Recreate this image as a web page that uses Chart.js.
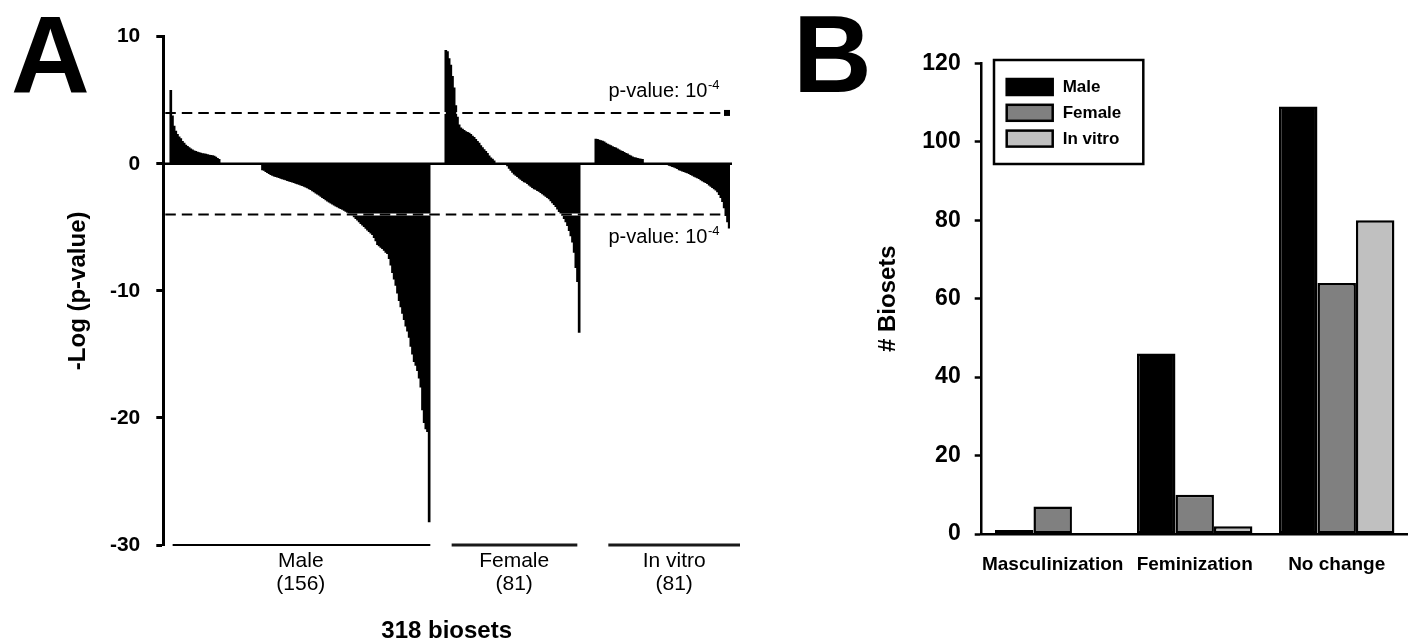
<!DOCTYPE html>
<html><head><meta charset="utf-8">
<script src="https://cdn.jsdelivr.net/npm/chart.js@4.4.1/dist/chart.umd.min.js"></script>
<style>
html,body{margin:0;padding:0;background:#fff}
#wrap{position:relative;width:1413px;height:643px;overflow:hidden;background:#fff}
canvas{position:absolute;top:0}
</style>
</head><body>
<div id="wrap">
<canvas id="panelA" width="780" height="643" style="left:0"></canvas>
<canvas id="panelB" width="633" height="643" style="left:780px"></canvas>
</div>
<script>
// ================= DATA =================
// Panel A: -log(p-value) of 318 biosets, sorted within each group
const groupNames  = ['Male', 'Female', 'In vitro'];
const groupCounts = [156, 81, 81];
const totalLabel  = '318 biosets';
const thresholdLog = 4;            // p-value 10^-4
const yTicksA = [-30, -20, -10, 0, 10];

const maleValues = [
  5.8, 3.8, 3.0, 2.6, 2.35, 2.15, 2.0, 1.8, 1.65, 1.5,
  1.4, 1.3, 1.2, 1.12, 1.05, 1.0, 0.95, 0.9, 0.86, 0.83,
  0.8, 0.78, 0.75, 0.72, 0.7, 0.67, 0.63, 0.55, 0.45, 0.38,
  0, 0, 0, 0, 0, 0, 0, 0, 0, 0,
  0, 0, 0, 0, 0, 0, 0, 0, 0, 0,
  0, 0, 0, 0, 0,
  -0.5, -0.55, -0.65, -0.72, -0.8, -0.88, -0.95, -1.0, -1.04, -1.08,
  -1.12, -1.17, -1.22, -1.26, -1.3, -1.35, -1.39, -1.44, -1.48, -1.52,
  -1.57, -1.62, -1.66, -1.7, -1.75, -1.8, -1.86, -1.92, -2.0, -2.07,
  -2.16, -2.25, -2.33, -2.42, -2.5, -2.6, -2.69, -2.78, -2.88, -2.97,
  -3.05, -3.13, -3.21, -3.28, -3.36, -3.43, -3.5, -3.56, -3.62, -3.7,
  -3.78, -3.86, -3.92, -3.98, -4.05, -4.2, -4.35, -4.47, -4.6, -4.73,
  -4.86, -4.98, -5.12, -5.25, -5.37, -5.48, -5.6, -5.85, -6.1, -6.4,
  -6.5, -6.6, -6.7, -6.85, -7.0, -7.1, -7.5, -8.0, -8.6, -9.1,
  -9.6, -10.2, -10.8, -11.3, -11.8, -12.3, -12.8, -13.2, -13.7, -14.4,
  -15.0, -15.6, -15.9, -16.3, -16.9, -17.6, -19.4, -20.4, -20.9, -21.1,
  -28.2
];
const femaleValues = [
  8.95, 8.85, 8.3, 7.8, 6.9, 6.0, 4.6, 3.7, 3.1, 2.85,
  2.75, 2.65, 2.55, 2.5, 2.45, 2.35, 2.2, 2.1, 1.95, 1.8,
  1.65, 1.45, 1.3, 1.15, 1.0, 0.85, 0.65, 0.5, 0.4, 0.25,
  0, 0, 0, 0, 0, 0, 0,
  -0.2, -0.4, -0.55, -0.7, -0.85, -0.95, -1.05, -1.15, -1.25, -1.35,
  -1.45, -1.5, -1.6, -1.7, -1.8, -1.9, -2.0, -2.05, -2.15, -2.2,
  -2.3, -2.4, -2.5, -2.6, -2.7, -2.8, -2.95, -3.1, -3.25, -3.4,
  -3.6, -3.8, -3.95, -4.1, -4.35, -4.6, -4.9, -5.3, -5.7, -6.2,
  -7.0, -8.2, -9.3, -13.3
];
const invitroValues = [
  1.97, 1.95, 1.9, 1.86, 1.82, 1.75, 1.65, 1.58, 1.52, 1.45,
  1.38, 1.32, 1.28, 1.2, 1.12, 1.05, 1.0, 0.92, 0.85, 0.8,
  0.72, 0.65, 0.58, 0.52, 0.5, 0.46, 0.42, 0.4, 0.38,
  0, 0, 0, 0, 0, 0, 0, 0, 0, 0, 0, 0, 0, 0, 0,
  -0.15, -0.2, -0.25, -0.3, -0.35, -0.42, -0.5, -0.55, -0.6, -0.65,
  -0.7, -0.75, -0.8, -0.88, -0.95, -1.02, -1.08, -1.13, -1.2, -1.3,
  -1.38, -1.45, -1.52, -1.6, -1.7, -1.8, -1.9, -2.0, -2.1, -2.25,
  -2.45, -2.7, -3.0, -3.5, -4.1, -4.6, -5.1
];

// Panel B: number of biosets per outcome
const categoriesB   = ['Masculinization', 'Feminization', 'No change'];
const seriesNamesB  = ['Male', 'Female', 'In vitro'];
const maleCounts    = [1, 46, 109];
const femaleCounts  = [7, 10, 64];
const invitroCounts = [0, 2, 80];
const yTicksB = [0, 20, 40, 60, 80, 100, 120];

// ================= LAYOUT / STYLE =================
const FONT = '"Liberation Sans", Arial, Helvetica, sans-serif';
Chart.defaults.font.family = FONT;
Chart.defaults.color = '#000';

const leadSlots = 4, gapSlots = 9;
const groupLabelSlots = [82, 210, 306];
const underlineSlots = [[5.6, 160.2], [173.0, 248.4], [267, 346]];

const nulls = n => Array(n).fill(null);
const slotValues = [].concat(nulls(leadSlots), maleValues, nulls(gapSlots), femaleValues, nulls(gapSlots), invitroValues);
const slotLabels = slotValues.map(() => '');
groupNames.forEach((g, i) => { slotLabels[groupLabelSlots[i]] = [g, '(' + groupCounts[i] + ')']; });

const overlayA = {
  id: 'overlayA',
  afterDatasetsDraw(chart) {
    const {ctx, chartArea: ca, scales: {x, y}} = chart;
    ctx.save();
    // zero line
    const y0 = y.getPixelForValue(0);
    ctx.strokeStyle = '#000'; ctx.lineWidth = 2.5;
    ctx.beginPath(); ctx.moveTo(ca.left, y0); ctx.lineTo(ca.right + 2, y0); ctx.stroke();
    // threshold lines
    [thresholdLog, -thresholdLog].forEach((v, i) => {
      const yy = y.getPixelForValue(v);
      const x1 = ca.left + 2, x2 = ca.right - (i === 0 ? 6 : 7);
      ctx.lineWidth = 2;
      ctx.setLineDash([]);
      ctx.strokeStyle = '#fff';
      ctx.beginPath(); ctx.moveTo(x1, yy); ctx.lineTo(x2, yy); ctx.stroke();
      ctx.setLineDash([10.5, 6]);
      ctx.strokeStyle = '#000';
      ctx.beginPath(); ctx.moveTo(x1, yy); ctx.lineTo(x2, yy); ctx.stroke();
      ctx.setLineDash([]);
      if (i === 0) { ctx.fillStyle = '#000'; ctx.fillRect(ca.right - 6, yy - 3, 6, 6); }
      // label
      const base = i === 0 ? yy - 16 : yy + 28;
      ctx.font = '20px ' + FONT; const mw = ctx.measureText('p-value: 10').width;
      ctx.font = '13px ' + FONT; const sw = ctx.measureText('-4').width;
      const right = ca.right - 11;
      ctx.fillStyle = '#000'; ctx.textAlign = 'left'; ctx.textBaseline = 'alphabetic';
      ctx.font = '20px ' + FONT; ctx.fillText('p-value: 10', right - sw - mw, base);
      ctx.font = '13px ' + FONT; ctx.fillText('-4', right - sw + 0.5, base - 8);
    });
    // group underlines
    const yb = ca.bottom;
    underlineSlots.forEach((s, i) => {
      ctx.strokeStyle = i === 0 ? '#000' : '#1a1a1a';
      ctx.lineWidth = i === 0 ? 2.2 : 3;
      ctx.beginPath();
      ctx.moveTo(x.getPixelForValue(s[0] - 0.5), yb);
      ctx.lineTo(x.getPixelForValue(s[1] - 0.5), yb);
      ctx.stroke();
    });
    // panel letter
    ctx.fillStyle = '#000'; ctx.textAlign = 'left'; ctx.textBaseline = 'alphabetic';
    ctx.font = 'bold 109px ' + FONT;
    ctx.fillText('A', 11, 91.7);
    ctx.restore();
  }
};

new Chart(document.getElementById('panelA'), {
  type: 'bar',
  data: {
    labels: slotLabels,
    datasets: [{
      data: slotValues, backgroundColor: '#000', borderWidth: 0, inflateAmount: 0,
      barPercentage: 1.6, categoryPercentage: 1
    }]
  },
  options: {
    responsive: false, animation: false,
    layout: {padding: {left: 0, top: 36.7, right: 50, bottom: 0}},
    plugins: {legend: {display: false}, tooltip: {enabled: false}},
    scales: {
      x: {
        type: 'category',
        grid: {display: false, drawTicks: false},
        border: {display: false},
        ticks: {autoSkip: false, maxRotation: 0, minRotation: 0, padding: 5, color: '#000',
                font: {family: FONT, size: 21, lineHeight: 1.1}},
        title: {display: true, text: totalLabel, color: '#000',
                font: {family: FONT, size: 24, weight: 'bold', lineHeight: 1}, padding: {top: 0, bottom: 0}},
        afterFit(s) { s.height = 98; }
      },
      y: {
        min: yTicksA[0], max: yTicksA[yTicksA.length - 1],
        afterBuildTicks(s) { s.ticks = yTicksA.map(v => ({value: v})); },
        ticks: {padding: 16, color: '#000', font: {family: FONT, size: 21, weight: 'bold'}},
        grid: {drawOnChartArea: false, tickLength: 7, tickWidth: 3, color: '#000'},
        border: {color: '#000', width: 3},
        title: {display: true, text: '-Log (p-value)', color: '#000',
                font: {family: FONT, size: 24, weight: 'bold', lineHeight: 1.2}, padding: {top: 63.5, bottom: 0}},
        afterFit(s) { s.width = 163.3; }
      }
    }
  },
  plugins: [overlayA]
});

// ================= PANEL B =================
const overlayB = {
  id: 'overlayB',
  afterDraw(chart) {
    const {ctx, chartArea: ca} = chart;
    ctx.save();
    const lx = ca.left + 12.3, ly = ca.top - 3.3, lw = 149.3, lh = 104;
    ctx.lineWidth = 2.5; ctx.strokeStyle = '#000';
    ctx.strokeRect(lx, ly, lw, lh);
    chart.data.datasets.forEach((ds, i) => {
      const cy = ly + 27 + i * 25.8;
      ctx.fillStyle = ds.backgroundColor;
      ctx.fillRect(lx + 12.7, cy - 8, 46, 16);
      ctx.lineWidth = 2.5; ctx.strokeStyle = '#000';
      ctx.strokeRect(lx + 12.7, cy - 8, 46, 16);
      ctx.fillStyle = '#000'; ctx.textAlign = 'left'; ctx.textBaseline = 'middle';
      ctx.font = 'bold 17px ' + FONT;
      ctx.fillText(ds.label, lx + 68.7, cy + 0.5);
    });
    ctx.fillStyle = '#000'; ctx.textAlign = 'left'; ctx.textBaseline = 'alphabetic';
    ctx.font = 'bold 109px ' + FONT;
    ctx.fillText('B', 13, 92);
    ctx.restore();
  }
};

const fillsB = ['#000000', '#808080', '#c0c0c0'];
new Chart(document.getElementById('panelB'), {
  type: 'bar',
  data: {
    labels: categoriesB,
    datasets: [maleCounts, femaleCounts, invitroCounts].map((d, i) => ({
      label: seriesNamesB[i], data: d, backgroundColor: fillsB[i],
      borderColor: '#000', borderWidth: 2.5, borderSkipped: false,
      categoryPercentage: 0.813, barPercentage: 1
    }))
  },
  options: {
    responsive: false, animation: false,
    layout: {padding: {left: 0, top: 63.3, right: 5.3, bottom: 0}},
    plugins: {legend: {display: false}, tooltip: {enabled: false}},
    scales: {
      x: {
        grid: {display: false, drawTicks: false},
        border: {display: true, color: '#000', width: 2.5},
        ticks: {autoSkip: false, maxRotation: 0, minRotation: 0, padding: 19.3, color: '#000',
                font: {family: FONT, size: 19, weight: 'bold', lineHeight: 1.2}},
        afterFit(s) { s.height = 109; }
      },
      y: {
        min: yTicksB[0], max: yTicksB[yTicksB.length - 1],
        afterBuildTicks(s) { s.ticks = yTicksB.map(v => ({value: v})); },
        ticks: {padding: 14, color: '#000', font: {family: FONT, size: 23, weight: 'bold'}},
        grid: {drawOnChartArea: false, tickLength: 7, tickWidth: 2.5, color: '#000'},
        border: {color: '#000', width: 2.5},
        title: {display: true, text: '# Biosets', color: '#000',
                font: {family: FONT, size: 24, weight: 'bold', lineHeight: 1.2}, padding: {top: 93.6, bottom: 0}},
        afterFit(s) { s.width = 201.7; }
      }
    }
  },
  plugins: [overlayB]
});
</script>
</body></html>
